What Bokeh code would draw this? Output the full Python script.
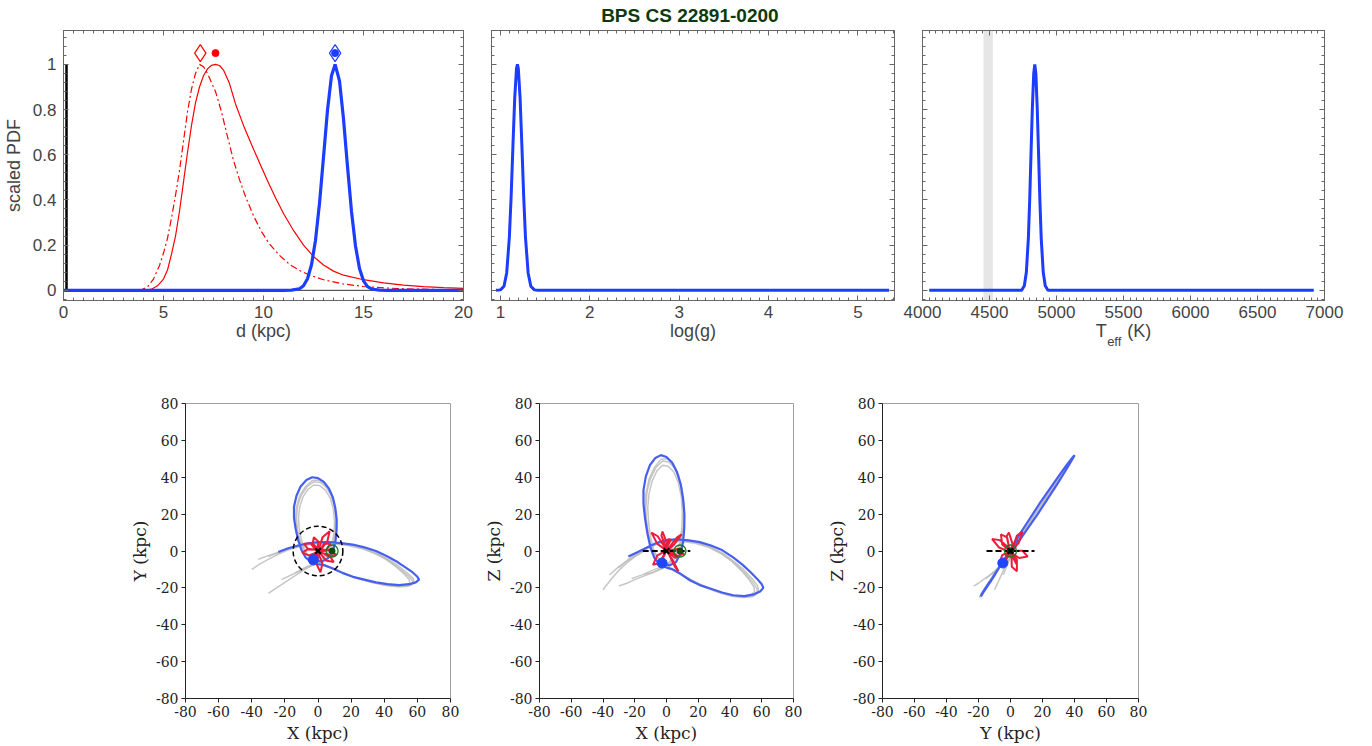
from bokeh.plotting import figure
from bokeh.layouts import column, row
from bokeh.models import (Range1d, LinearAxis, SingleIntervalTicker, FixedTicker,
                          CustomJSTickFormatter)
from bokeh.embed import file_html
from bokeh.resources import INLINE

# ---------------------------------------------------------------- data
title_text = "BPS CS 22891-0200"

# distance PDFs (kpc, scaled PDF)
dist_red_d = [0, 3.8, 4.1, 4.4, 4.7, 5.0, 5.2, 5.4, 5.6, 5.8,
              6.0, 6.2, 6.4, 6.6, 6.8, 7.0, 7.2, 7.4, 7.6, 7.8,
              8.0, 8.3, 8.6, 9.0, 9.4, 9.8, 10.2, 10.6, 11.0, 11.5,
              12.0, 12.5, 13.0, 13.5, 14.0, 15.0, 16.0, 17.0, 18.0, 19.0, 20.0]
dist_red_pdf = [0, 0, 0, 0.005, 0.02, 0.05, 0.09, 0.16, 0.24, 0.35,
                0.48, 0.61, 0.73, 0.83, 0.9, 0.95, 0.98, 0.996, 1.0, 0.995,
                0.975, 0.915, 0.825, 0.73, 0.645, 0.565, 0.485, 0.41, 0.34, 0.265,
                0.2, 0.15, 0.112, 0.085, 0.067, 0.047, 0.033, 0.023, 0.016, 0.012, 0.009]

dist_red2_d = [0, 3.7, 3.9, 4.2, 4.5, 4.8, 5.0, 5.2, 5.4, 5.6,
               5.8, 6.0, 6.2, 6.4, 6.6, 6.8, 7.0, 7.2, 7.4, 7.6,
               7.9, 8.2, 8.5, 8.8, 9.1, 9.5, 9.9, 10.3, 10.8, 11.3,
               11.8, 12.3, 13.0, 14.0, 15.0, 16.0, 17.0, 18.0, 19.0, 20.0]
dist_red2_pdf = [0, 0, 0.002, 0.015, 0.05, 0.11, 0.165, 0.23, 0.32, 0.42,
                 0.53, 0.66, 0.79, 0.89, 0.96, 1.0, 0.99, 0.96, 0.92, 0.88,
                 0.79, 0.68, 0.575, 0.49, 0.415, 0.33, 0.26, 0.205, 0.155, 0.115,
                 0.088, 0.068, 0.047, 0.028, 0.017, 0.011, 0.007, 0.005, 0.003, 0.002]

dist_blue_d = [0, 11.0, 11.4, 11.8, 12.0, 12.2, 12.4, 12.6, 12.8, 13.0,
               13.2, 13.4, 13.58, 13.8, 14.0, 14.2, 14.4, 14.6, 14.8, 15.0,
               15.2, 15.4, 15.8, 16.2, 20.0]
dist_blue_pdf = [0, 0, 0.001, 0.007, 0.02, 0.051, 0.113, 0.222, 0.385, 0.59,
                 0.798, 0.95, 1.0, 0.927, 0.759, 0.548, 0.349, 0.196, 0.097, 0.042,
                 0.016, 0.006, 0.001, 0, 0]

red_mode_d = 6.84
red_peak_d = 7.6
blue_peak_d = 13.58
marker_pdf = 1.05
bar_d = [0.15, 0.15]
bar_pdf = [0, 1]
zero_d = [0, 20]
zero_pdf = [0, 0]

logg_x = [0.95, 1.0, 1.04, 1.07, 1.10, 1.12, 1.14, 1.16, 1.18, 1.19,
          1.20, 1.22, 1.24, 1.26, 1.28, 1.31, 1.34, 1.38, 1.42, 5.35]
logg_pdf = [0, 0.002, 0.018, 0.077, 0.236, 0.418, 0.641, 0.852, 0.982, 1.0,
            0.982, 0.852, 0.641, 0.418, 0.236, 0.077, 0.018, 0.002, 0, 0]

teff_x = [4050, 4740, 4760, 4775, 4790, 4800, 4810, 4820, 4830, 4838,
          4846, 4856, 4866, 4876, 4886, 4901, 4916, 4936, 6920]
teff_pdf = [0, 0, 0.02, 0.08, 0.23, 0.4, 0.61, 0.81, 0.96, 1.0,
            0.96, 0.81, 0.61, 0.4, 0.23, 0.08, 0.02, 0, 0]
teff_band = [4455, 4525]

# orbits (kpc)
blue_x = [-24, -18, -12, -6, 0, 7, 14, 21, 28, 35,
          42, 48, 53, 57, 60, 61, 59, 55, 49, 42,
          35, 28, 21, 15, 9, 4, 0, -4, -7.5, -10,
          -12, -13.5, -14.5, -14.5, -13, -10.5, -7, -3.5, 0, 3.5,
          6.5, 9, 10.5, 11.3, 11.2, 10.5, 9, 6, 2, -2.8]
blue_y = [-0.5, 1.5, 3, 4.2, 4.8, 4.8, 4.3, 3.5, 2, 0,
          -3, -6, -9, -11.5, -14, -15.5, -17, -18, -18.5, -18,
          -17, -15.5, -14, -12, -9.5, -7.8, -7.2, -6.2, -3.5, 0.5,
          6, 12, 18, 24, 30, 35, 38.5, 40, 39.5, 37.5,
          34, 29, 23, 17, 11, 5, 0, -4, -5.8, -4.8]
blue_z = [-3, -0.5, 2, 4.5, 6, 6.3, 5.8, 4.8, 3, 0.5,
          -3.5, -7.5, -11.5, -15, -18, -20, -22, -23.5, -24.5, -24,
          -22.5, -20.5, -18.5, -16, -12.5, -10, -9, -7.5, -4, 1.5,
          9.5, 17.5, 25.5, 33, 40.5, 46.5, 50.5, 52, 51, 48,
          43, 36, 28, 20, 12.5, 5, -1, -6, -7.8, -6.5]

grayA_x = [-40, -35, -30, -25, -19, -12, -5, 2, 10, 18,
           26, 34, 41, 47, 52, 55, 55.5, 53, 47, 40,
           32, 24, 17, 10, 4, -1, -5, -8, -10, -11.3,
           -11.8, -11, -9, -6, -2.5, 1, 4.5, 7.5, 9.3, 10,
           9.7, 8.3, 5.5, 1.5, -3, -8, -14, -20, -25, -30]
grayA_y = [-10, -7, -4.5, -2.2, 0.2, 2.3, 3.6, 4.1, 3.8, 3,
           1.4, -1.2, -4.5, -8.5, -12.5, -15.5, -17.5, -18.7, -19, -18.3,
           -16.8, -14.8, -12.5, -10, -7.8, -6, -3.5, 0.5, 6, 12,
           18, 24, 29.5, 33.5, 35.8, 35.5, 33, 28.5, 22.5, 16,
           9.5, 3.5, -1.5, -5, -7.5, -10, -13.5, -17, -20, -23]
grayA_z = [-21, -15.5, -10.5, -6.5, -2.5, 1.5, 4, 5.3, 5.2, 4.2,
           2.2, -1.2, -5.5, -10.5, -15.5, -19.5, -22, -24, -24.5, -24,
           -22, -19.5, -16.5, -13, -10, -7.5, -4.5, 0.5, 7.5, 15.5,
           23.5, 31, 38, 43.5, 46.5, 46, 43, 37, 29.5, 21,
           12.5, 4.5, -2, -6.5, -9, -11.5, -13.5, -15.5, -17.5, -19]

grayB_x = [-36, -30, -24, -17, -10, -3, 4, 12, 20, 28,
           36, 43, 49, 54, 57, 57, 54, 48, 41, 33,
           25, 18, 11, 5, 0, -4.5, -8.5, -11, -12.5, -13,
           -12.3, -10, -6.5, -2.5, 1.5, 5, 8, 10, 10.8, 10.5,
           9, 6, 2, -3, -9, -15, -22]
grayB_y = [-4.5, -2.5, -0.8, 1.2, 2.8, 3.9, 4.3, 4, 3.1, 1.3,
           -1.8, -5.3, -9.3, -13.2, -16, -18, -19.2, -19.4, -18.7, -17.2,
           -15.2, -13, -10.5, -8.2, -6.3, -4, 0, 5.5, 12, 18,
           24.5, 30.5, 35, 37.5, 37.2, 34.5, 30, 24, 17, 10,
           4, -1, -4.5, -7, -9.5, -12.5, -15.5]
grayB_z = [-13, -8.5, -5, -1.5, 2.5, 4.8, 5.6, 5.5, 4.3, 2,
           -2, -6.5, -11.5, -16.5, -20.5, -23, -24.8, -25.2, -24.5, -22.5,
           -20, -17, -13.7, -10.6, -8, -5, 0, 7, 15.5, 23.5,
           32, 39.5, 45.5, 48.8, 48.3, 45, 39, 31, 22, 13,
           5, -1.5, -6, -8.5, -10.5, -12.8, -15]

grayC_x = [-30, -24, -18, -11, -4, 3, 11, 19, 27, 35,
           42, 48.5, 54, 57.5, 58, 55.5, 50, 43, 35, 27,
           20, 13, 7, 1.5, -3.5, -7.5, -10.5, -12.5, -13.5, -13,
           -11, -7.5, -3.5, 0.5, 4.5, 7.5, 9.8, 11, 11.2, 10.3,
           8, 4.5, 0, -5, -10, -14]
grayC_y = [-3, -0.8, 1, 2.7, 4, 4.6, 4.3, 3.5, 1.8, -1,
           -4.3, -8, -12, -15, -17.3, -18.8, -19.3, -18.8, -17.4, -15.6,
           -13.5, -11, -8.7, -6.8, -4.6, -1, 4.5, 11, 17.5, 24,
           30, 35, 38.2, 38.5, 36.2, 32, 26, 19, 12, 5.5,
           0, -4, -6.5, -8.5, -10.5, -12]
grayC_z = [-9, -4.5, -1, 2.5, 5, 5.9, 5.7, 4.7, 2.5, -1,
           -5.3, -10, -15, -19, -22, -24.2, -25, -24.5, -22.7, -20.3,
           -17.6, -14.3, -11.3, -8.8, -6, -1.3, 5.8, 14.3, 22.7, 31.2,
           39, 45.5, 49.7, 50, 47, 41.6, 33.8, 24.7, 15.6, 7.2,
           0, -5.2, -8.5, -10.5, -12, -12.5]

red_x = [0.5, 2.7, 7, 5.7, 0.9, -5.51, -9.5, -5.89, -0.6, 2.68,
         1.5, -0.88, 0.4, 3.65, 7.5, 5.35, 0.7, -3.21, -2.5, 0.21,
         -0.4, -5.87, -8.5, -4.33, -0.6, -1.19, -4.5, -4.21, 0.3, 6.66,
         9.5, 4.74, 0.6, 6.92, 11, 6.28, 0.5]
red_y = [0.8, 7.4, 10.7, 5.44, -0.3, -2.39, -1, 1.19, 0.5, -6.67,
         -11.5, -7.13, -0.8, 3.99, 4, 0.81, 0.6, 3.93, 7.5, 5.07,
         0.7, 0.77, 4, 4.03, -0.5, -5.17, -7, -3.23, -0.6, -2.08,
         -6, -5.12, -0.4, 0.57, -2, -2.97, 0.3]
red_z = [0.2, 0.2, -3, -3.8, -0.6, 8, 10, 4, 0.6, 5.9,
         6.5, 1.9, -0.5, -4.6, -11, -8.6, -0.3, 8.3, 10.5, 4.3,
         0.2, -2.5, -7.5, -6.5, -0.4, -2.2, -7, -6.2, 0.5, 7.4,
         9, 3.4, 0.3, 1.1, -1.5, -2.9, 0]

sun_xyz = [8.5, 0, 0]
star_xyz = [-2.8, -4.8, -6.5]
gc_xyz = [0, 0, 0]
disk_radius = 15
disk_line = [-15, 15]
orbit_ticks = [-80, -60, -40, -20, 0, 20, 40, 60, 80]

# text placement (data x of the title and of the T_eff label pieces)
title_x = 3.12
teff_label_x = [5334, 5617]
teff_sub_x = [5431]

# ---------------------------------------------------------------- style
FONT_TOP = "Liberation Sans"
FONT_BOT = "DejaVu Serif"
TOP_BLUE = "#1c3cff"
TOP_RED = "#ff0000"
ORB_BLUE = "#465ff0"
ORB_RED = "#ee1c3c"
ORB_GRAY = "#bcbcbc"
AX_GRAY = "#666666"
TXT_GRAY = "#444444"


def text_axis(ticks, mapping, size, color, standoff, bold=False):
    ax = LinearAxis(ticker=FixedTicker(ticks=ticks),
                    formatter=CustomJSTickFormatter(args=dict(m=mapping),
                                                    code="return m[String(tick)] || '';"))
    ax.axis_line_color = None
    ax.major_tick_line_color = None
    ax.minor_tick_line_color = None
    ax.major_tick_in = 0
    ax.major_tick_out = 0
    ax.major_label_standoff = standoff
    ax.major_label_text_font = FONT_TOP
    ax.major_label_text_font_size = size
    ax.major_label_text_color = color
    if bold:
        ax.major_label_text_font_style = "bold"
    return ax


def top_figure(width, left, right, xr, xint, xlabel, show_y):
    p = figure(width=width, height=360, x_range=Range1d(*xr),
               y_range=Range1d(-0.045, 1.15), x_axis_type=None, y_axis_type=None,
               output_backend="svg", toolbar_location=None,
               min_border_left=left, min_border_right=right,
               min_border_top=30, min_border_bottom=60)
    p.outline_line_color = AX_GRAY
    xt = SingleIntervalTicker(interval=xint, num_minor_ticks=10)
    yt = SingleIntervalTicker(interval=0.2, num_minor_ticks=5)
    for loc in ("below", "above", "left", "right"):
        ax = LinearAxis(ticker=xt if loc in ("below", "above") else yt)
        ax.axis_line_color = AX_GRAY
        ax.major_tick_line_color = AX_GRAY
        ax.minor_tick_line_color = AX_GRAY
        ax.major_tick_in = 5
        ax.major_tick_out = 0
        ax.minor_tick_in = 3
        ax.minor_tick_out = 0
        ax.major_label_text_font = FONT_TOP
        ax.major_label_text_font_size = "17px"
        ax.major_label_text_color = TXT_GRAY
        ax.axis_label_text_font = FONT_TOP
        ax.axis_label_text_font_size = "18px"
        ax.axis_label_text_font_style = "normal"
        ax.axis_label_text_color = TXT_GRAY
        if loc == "below":
            ax.axis_label = xlabel
            ax.major_label_standoff = 5
            ax.axis_label_standoff = 0
        elif loc == "left" and show_y:
            ax.axis_label = "scaled PDF"
            ax.formatter = CustomJSTickFormatter(code="return String(Math.round(tick*10)/10);")
            ax.major_label_standoff = 7
            ax.axis_label_standoff = 6
        else:
            # tick marks only, no tick labels
            ax.formatter = CustomJSTickFormatter(code="return '';")
            ax.major_label_text_color = None
            ax.major_label_text_font_size = "1px"
            ax.major_label_standoff = 0
        p.add_layout(ax, loc)
    return p


def orbit_figure(width, left, right, xlabel, ylabel):
    p = figure(width=width, height=386, x_range=Range1d(-80, 80), y_range=Range1d(-80, 80),
               output_backend="svg", toolbar_location=None,
               min_border_left=left, min_border_right=right,
               min_border_top=43, min_border_bottom=48)
    p.grid.visible = False
    p.outline_line_color = "#a0a0a0"
    p.xaxis.ticker = FixedTicker(ticks=orbit_ticks)
    p.yaxis.ticker = FixedTicker(ticks=orbit_ticks)
    p.xaxis.axis_label = xlabel
    p.yaxis.axis_label = ylabel
    for ax in p.axis:
        ax.formatter = CustomJSTickFormatter(code="return String(Math.round(tick));")
        ax.axis_line_color = "#222222"
        ax.major_tick_line_color = "#222222"
        ax.major_tick_in = 0
        ax.major_tick_out = 4
        ax.minor_tick_line_color = None
        ax.major_label_text_font = FONT_BOT
        ax.major_label_text_font_size = "14px"
        ax.major_label_text_color = "#222222"
        ax.major_label_standoff = 3
        ax.axis_label_text_font = FONT_BOT
        ax.axis_label_text_font_size = "17px"
        ax.axis_label_text_font_style = "normal"
        ax.axis_label_text_color = "#222222"
        ax.axis_label_standoff = 3
    return p


# ---------------------------------------------------------------- top row
p1 = top_figure(477, 62, 14, (0, 20), 5, "d (kpc)", True)
p1.line(zero_d, zero_pdf, line_color="#333333", line_width=1)
p1.line(bar_d, bar_pdf, line_color="black", line_width=2.5)
p1.line(dist_red2_d, dist_red2_pdf, line_color=TOP_RED, line_width=1.2, line_dash="7 3 2 3")
p1.line(dist_red_d, dist_red_pdf, line_color=TOP_RED, line_width=1.2)
p1.line(dist_blue_d, dist_blue_pdf, line_color=TOP_BLUE, line_width=3.2)
p1.scatter([red_mode_d], [marker_pdf], marker="diamond", size=17, fill_color=None,
           line_color=TOP_RED, line_width=1.2)
p1.scatter([red_peak_d], [marker_pdf], marker="circle", size=7, fill_color=TOP_RED,
           line_color=TOP_RED)
p1.scatter([blue_peak_d], [marker_pdf], marker="diamond", size=17, fill_color=None,
           line_color=TOP_BLUE, line_width=1.2)
p1.scatter([blue_peak_d], [marker_pdf], marker="circle", size=7, fill_color=TOP_BLUE,
           line_color=TOP_BLUE)

p2 = top_figure(423, 14, 6, (0.9, 5.41), 1, "log(g)", False)
p2.line(logg_x, logg_pdf, line_color=TOP_BLUE, line_width=3)
p2.add_layout(text_axis([title_x], {str(title_x): title_text}, "19px", "#0d3a0d", 5,
                        bold=True), "above")

p3 = top_figure(444, 22, 20, (4000, 7000), 500, None, False)
p3.quad(left=[teff_band[0]], right=[teff_band[1]], bottom=[-0.045], top=[1.15],
        fill_color="#e6e6e6", line_color=None)
p3.line(teff_x, teff_pdf, line_color=TOP_BLUE, line_width=3)
p3.add_layout(text_axis(teff_label_x, {str(teff_label_x[0]): "T", str(teff_label_x[1]): "(K)"},
                        "18px", TXT_GRAY, 0), "below")
p3.add_layout(text_axis(teff_sub_x, {str(teff_sub_x[0]): "eff"}, "13px", TXT_GRAY, -10),
              "below")

# ---------------------------------------------------------------- bottom row
grays = [(grayA_x, grayA_y, grayA_z), (grayB_x, grayB_y, grayB_z), (grayC_x, grayC_y, grayC_z)]


def draw_orbits(p, i, j):
    blue = (blue_x, blue_y, blue_z)
    red = (red_x, red_y, red_z)
    for g in grays:
        p.line(g[i], g[j], line_color=ORB_GRAY, line_width=1.5, line_alpha=0.85)
    p.line(blue[i], blue[j], line_color=ORB_BLUE, line_width=2.2)
    p.line(red[i], red[j], line_color=ORB_RED, line_width=2)


b1 = orbit_figure(480, 185, 30, "X (kpc)", "Y (kpc)")
draw_orbits(b1, 0, 1)
b1.circle(x=[gc_xyz[0]], y=[gc_xyz[1]], radius=disk_radius, fill_color=None,
          line_color="black", line_width=1.5, line_dash="5 3")

b2 = orbit_figure(343, 49, 30, "X (kpc)", "Z (kpc)")
draw_orbits(b2, 0, 2)
b2.line(disk_line, [0, 0], line_color="black", line_width=1.8, line_dash="6 3")

b3 = orbit_figure(335, 50, 20, "Y (kpc)", "Z (kpc)")
draw_orbits(b3, 1, 2)
b3.line(disk_line, [0, 0], line_color="black", line_width=1.8, line_dash="6 3")

for p, i, j in ((b1, 0, 1), (b2, 0, 2), (b3, 1, 2)):
    p.scatter([sun_xyz[i]], [sun_xyz[j]], marker="circle", size=12, fill_color=None,
              line_color="#1d7a1d", line_width=1.3)
    p.scatter([sun_xyz[i]], [sun_xyz[j]], marker="circle", size=6, fill_color="#0b4a0b",
              line_color="#0b4a0b")
    p.scatter([gc_xyz[i]], [gc_xyz[j]], marker="x", size=8, line_color="black", line_width=2)
    p.scatter([star_xyz[i]], [star_xyz[j]], marker="circle", size=10, fill_color="#1f47ff",
              line_color="#1f47ff")

layout = column(row(p1, p2, p3), row(b1, b2, b3))
open("out.html", "w").write(file_html(layout, INLINE))
